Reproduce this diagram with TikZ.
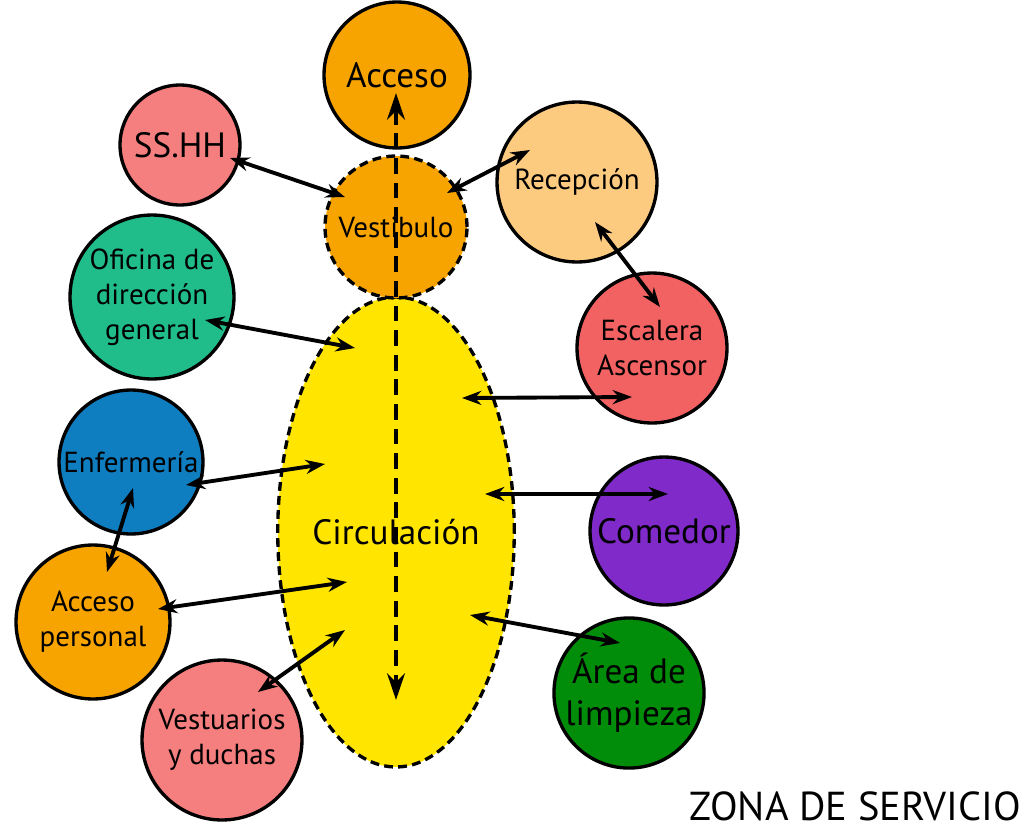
\documentclass[tikz,border=0pt]{standalone}
\usepackage{fontspec}
\setmainfont{PT Sans}
\usepackage{tikz}
\usetikzlibrary{arrows.meta, positioning, calc, shapes.geometric}
\definecolor{naranja}{HTML}{F8A400}
\definecolor{rosa}{HTML}{F57F7F}
\definecolor{salmon}{HTML}{FDCB80}
\definecolor{turquesa}{HTML}{20BD8B}
\definecolor{rojo}{HTML}{F36262}
\definecolor{amarillo}{HTML}{FFE500}
\definecolor{azul}{HTML}{0F7EC0}
\definecolor{morado}{HTML}{7F2AC9}
\definecolor{verde}{HTML}{018D0A}

\begin{document}
\begin{tikzpicture}[
    x=0.02cm, y=-0.02cm,
    sala/.style={circle, draw, line width=1.9pt, inner sep=0pt, align=center},
    punteada/.style={dash pattern=on 5pt off 3pt},
    grande/.style={font=\fontsize{20}{24}\selectfont},
    medio/.style={font=\fontsize{16.5}{20}\selectfont},
    arr/.style={{Stealth[length=11pt,width=8pt]}-{Stealth[length=11pt,width=8pt]}, line width=2.2pt},
    darr/.style={{Stealth[length=15pt,width=10pt]}-{Stealth[length=15pt,width=10pt]}, line width=2.6pt,
                 dash pattern=on 9pt off 5pt}
  ]
  \useasboundingbox (0,0) rectangle (1028,832);
  % espacios
  \node[ellipse, draw, line width=1.9pt, punteada, fill=amarillo, minimum width=4.68cm,
        minimum height=9.4cm, inner sep=0pt, grande] (circ) at (396,532) {Circulación};
  \node[sala, fill=naranja, minimum size=2.92cm, grande] (acceso) at (397,75) {Acceso};
  \node[sala, punteada, fill=naranja, minimum size=2.84cm, medio] (vest) at (396,227) {Vestibulo};
  \node[sala, fill=rosa, minimum size=2.4cm, grande] (sshh) at (180,145) {SS.HH};
  \node[sala, fill=salmon, minimum size=3.2cm, medio] (recep) at (577,182) {Recepción};
  \node[sala, fill=turquesa, minimum size=3.28cm, medio] (ofic) at (152,297) {Oficina de\\dirección\\general};
  \node[sala, fill=rojo, minimum size=3.0cm, medio] (escal) at (652,348) {Escalera\\Ascensor};
  \node[sala, fill=azul, minimum size=2.88cm, medio] (enfer) at (131,462) {Enfermería};
  \node[sala, fill=morado, minimum size=2.96cm, grande] (comed) at (664,531) {Comedor};
  \node[sala, fill=naranja, minimum size=3.08cm, medio] (accper) at (93,622) {Acceso\\personal};
  \node[sala, fill=verde, minimum size=2.96cm, grande] (limp) at (629,693) {Área de\\limpieza};
  \node[sala, fill=rosa, minimum size=3.2cm, medio] (vestu) at (222,740) {Vestuarios\\y duchas};
  \node[font=\fontsize{23}{27}\selectfont] (titulo) at (855,806) {ZONA DE SERVICIO};

  % conexiones
  \draw[darr] ([shift={(-1,18)}]acceso.center) -- ([shift={(0,168)}]circ.center);
  \draw[arr] ([shift={(50,13)}]sshh.center) -- ([shift={(-51,-30)}]vest.center);
  \draw[arr] ([shift={(-47,-32)}]recep.center) -- ([shift={(51,-34)}]vest.center);
  \draw[arr] ([shift={(18,40)}]recep.center) -- ([shift={(8,-41)}]escal.center);
  \draw[arr] ([shift={(53,23)}]ofic.center) -- ([shift={(-41,-184)}]circ.center);
  \draw[arr] ([shift={(-20,49)}]escal.center) -- ([shift={(66,-134)}]circ.center);
  \draw[arr] ([shift={(55,23)}]enfer.center) -- ([shift={(-71,-68)}]circ.center);
  \draw[arr] ([shift={(4,-37)}]comed.center) -- ([shift={(89,-38)}]circ.center);
  \draw[arr] ([shift={(2,26)}]enfer.center) -- ([shift={(14,-50)}]accper.center);
  \draw[arr] ([shift={(65,-13)}]accper.center) -- ([shift={(-49,50)}]circ.center);
  \draw[arr] ([shift={(36,-48)}]vestu.center) -- ([shift={(-51,98)}]circ.center);
  \draw[arr] ([shift={(-9,-50)}]limp.center) -- ([shift={(74,83)}]circ.center);
\end{tikzpicture}
\end{document}
